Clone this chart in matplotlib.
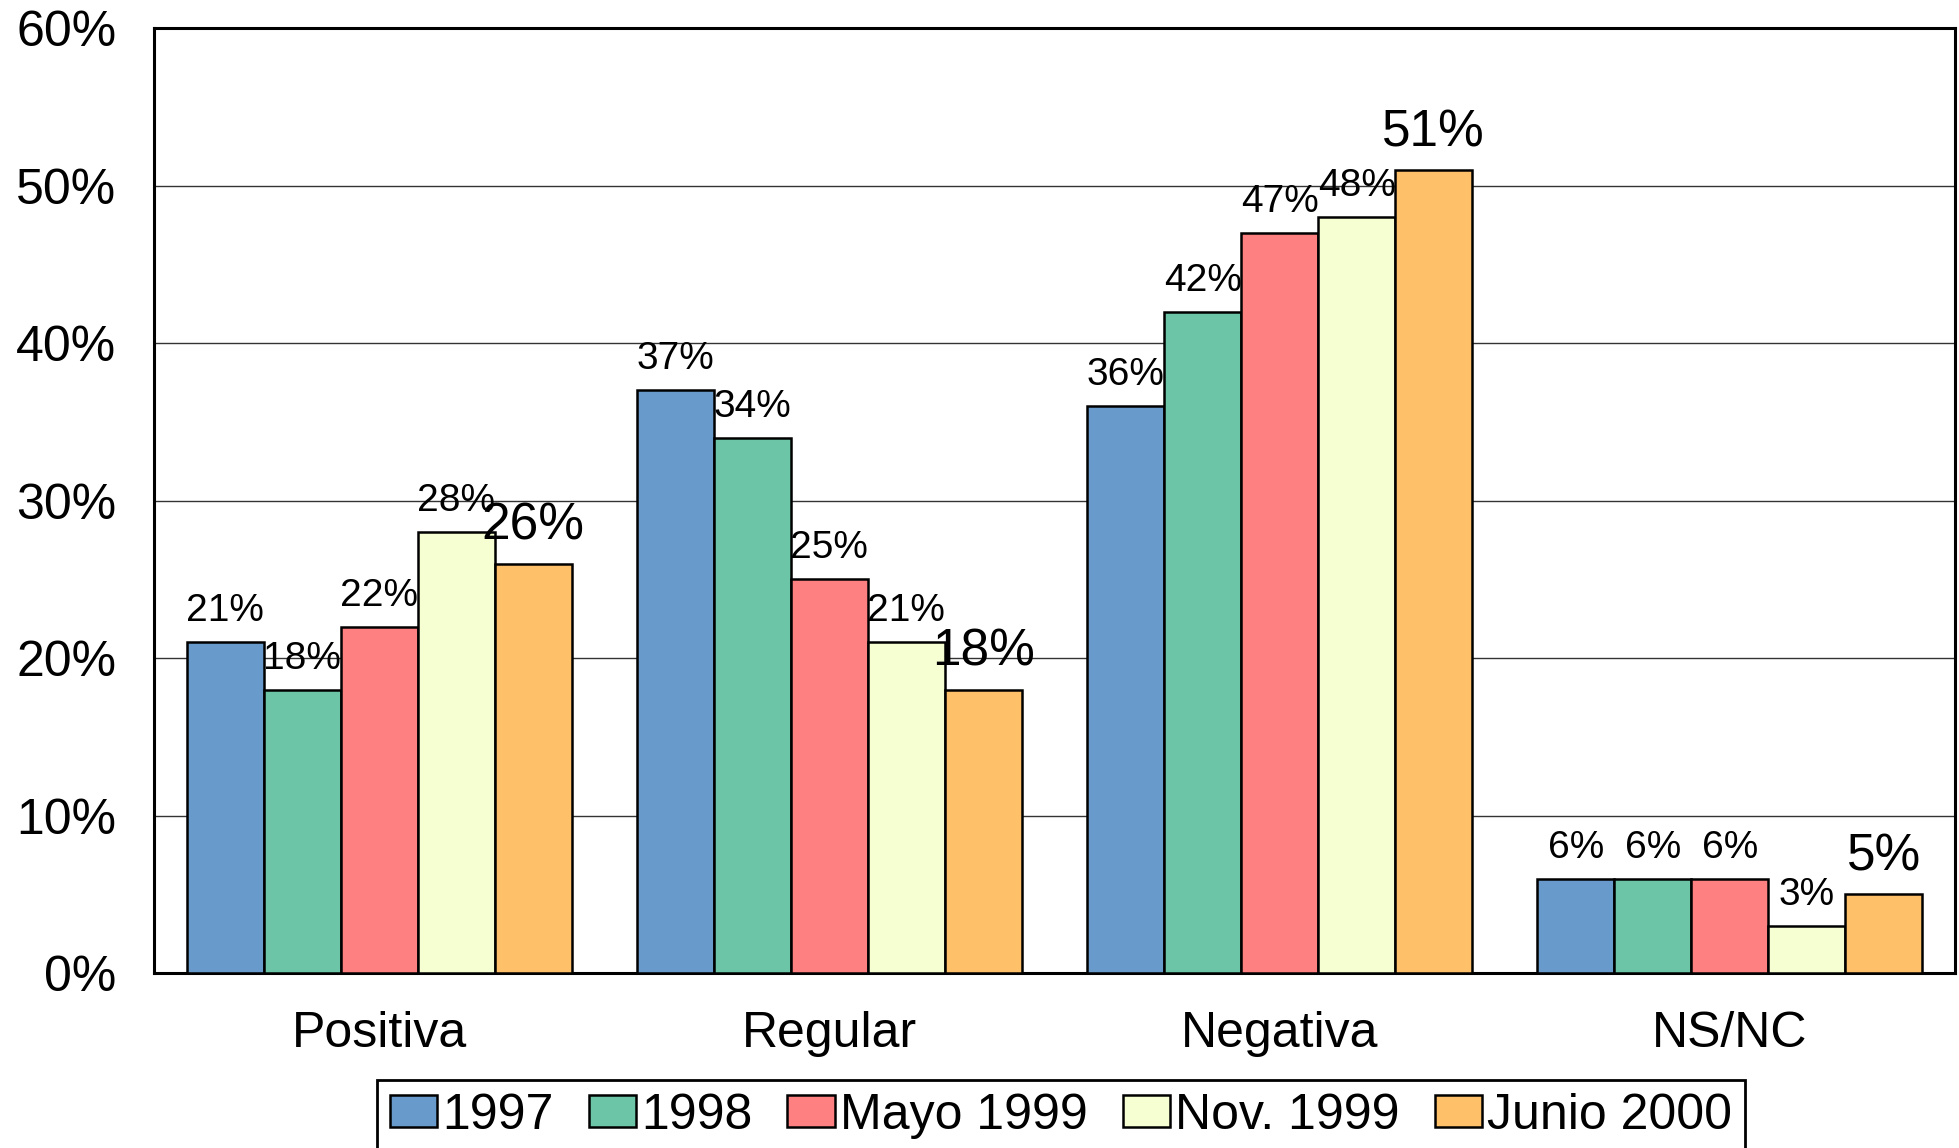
import matplotlib.pyplot as plt
import numpy as np
from matplotlib.ticker import PercentFormatter

plt.rcParams['font.family'] = ['Liberation Sans', 'DejaVu Sans']

categories = ['Positiva', 'Regular', 'Negativa', 'NS/NC']
series_names = ['1997', '1998', 'Mayo 1999', 'Nov. 1999', 'Junio 2000']
values = [
    [21, 37, 36, 6],   # 1997
    [18, 34, 42, 6],   # 1998
    [22, 25, 47, 6],   # Mayo 1999
    [28, 21, 48, 3],   # Nov. 1999
    [26, 18, 51, 5],   # Junio 2000
]
colors = ['#689BCB', '#6CC5A6', '#FF8080', '#F5FFD2', '#FEC068']
label_sizes = [28, 28, 28, 28, 37]

fig = plt.figure(figsize=(19.59, 11.48), dpi=100)
ax = fig.add_axes([0.0786, 0.1524, 0.9194, 0.8232])

x = np.arange(len(categories))
width = 0.171
n = len(series_names)
for i, name in enumerate(series_names):
    pos = x + (i - (n - 1) / 2) * width
    vals = np.array(values[i]) / 100
    bars = ax.bar(pos, vals, width, color=colors[i], edgecolor='black',
                  linewidth=1.8, label=name, zorder=3)
    for b, v in zip(bars, values[i]):
        ax.annotate(f'{v}%', (b.get_x() + b.get_width() / 2, b.get_height()),
                    xytext=(0, 15 if i < 4 else 17), textcoords='offset points',
                    ha='center', va='baseline', fontsize=label_sizes[i], zorder=4)

ax.set_xlim(-0.5, len(categories) - 0.5)
ax.set_ylim(0, 0.6)
ax.set_yticks(np.arange(0, 0.61, 0.1))
ax.yaxis.set_major_formatter(PercentFormatter(1.0, decimals=0))
ax.set_xticks(x)
ax.set_xticklabels(categories)
ax.tick_params(axis='both', length=0, labelsize=36, pad=27)
ax.grid(axis='y', color='#333333', linewidth=1, zorder=0)
for s in ax.spines.values():
    s.set_linewidth(2.2)

leg = fig.legend(loc='upper center', bbox_to_anchor=(0.5416, 0.059), ncol=5,
                 fontsize=36, frameon=True, fancybox=False, edgecolor='black',
                 framealpha=1, handlelength=0.95, handleheight=0.6,
                 handletextpad=0.1, columnspacing=0.7, borderpad=0.25,
                 borderaxespad=0)
leg.get_frame().set_linewidth(2)

fig.savefig('out.png', dpi=100)
